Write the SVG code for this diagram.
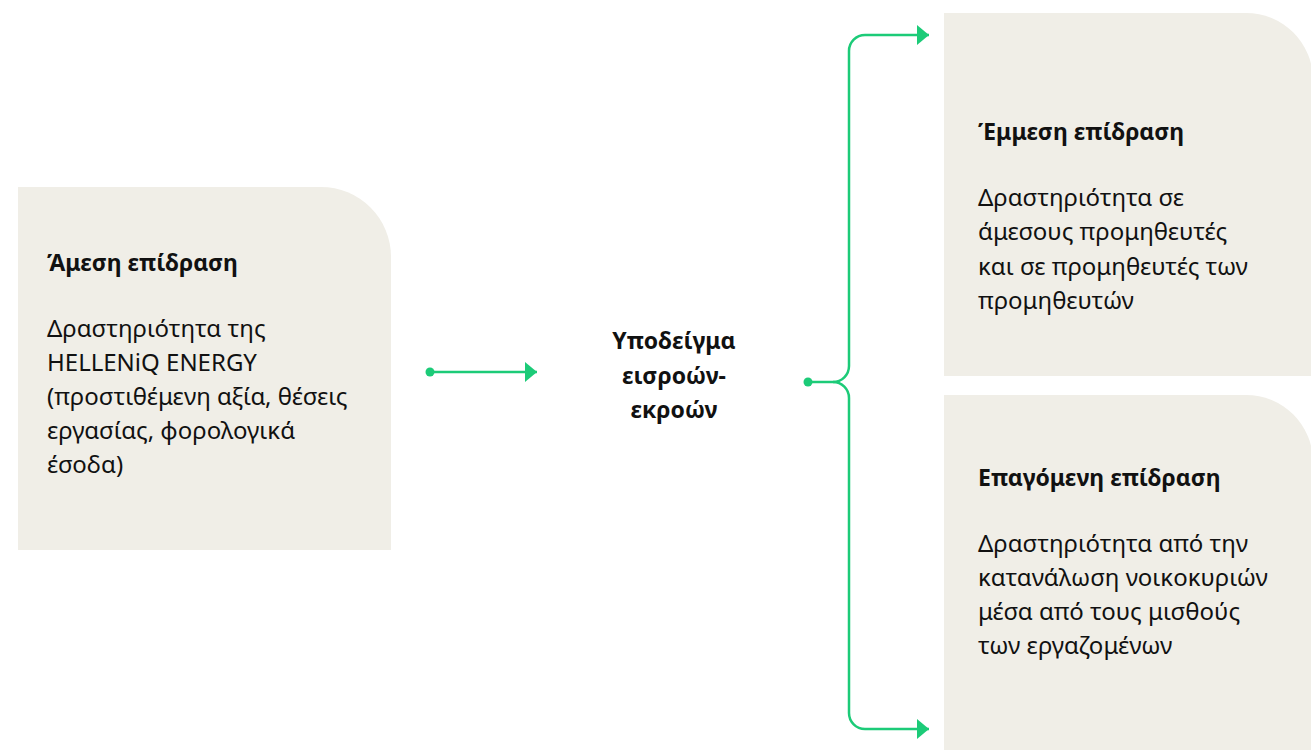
<svg xmlns="http://www.w3.org/2000/svg" width="1311" height="750" viewBox="0 0 1311 750">
<style>
.box{fill:#F0EEE7}
.t{font-family:"Noto Sans","DejaVu Sans",sans-serif;font-size:24px;fill:#111}
.b{font-weight:bold;font-size:23px}
.c{fill:none;stroke:#1CCB78;stroke-width:2.5}
.dot{fill:#1CCB78}
.ah{fill:#1CCB78}
</style>
<defs>
<marker id="arr" viewBox="0 0 12 20" refX="12" refY="10" markerWidth="12" markerHeight="20" markerUnits="userSpaceOnUse" orient="auto">
<path d="M0,0 L12,10 L0,20 Z" class="ah"/>
</marker>
</defs>
<g id="node-direct">
<path class="box" d="M18,187 H321 A70,70 0 0 1 391,257 V550 H18 Z"/>
<text class="t b" x="47" y="271">Άμεση επίδραση</text>
<text class="t" x="47" y="337">Δραστηριότητα της</text>
<text class="t" x="47" y="371">HELLENiQ ENERGY</text>
<text class="t" x="47" y="405">(προστιθέμενη αξία, θέσεις</text>
<text class="t" x="47" y="439">εργασίας, φορολογικά</text>
<text class="t" x="47" y="473">έσοδα)</text>
</g>
<g id="node-io">
<text class="t b" x="674" y="349" text-anchor="middle">Υποδείγμα</text>
<text class="t b" x="674" y="384" text-anchor="middle">εισροών-</text>
<text class="t b" x="674" y="418" text-anchor="middle">εκροών</text>
</g>
<g id="node-indirect">
<path class="box" d="M944,13 H1246 A67,67 0 0 1 1313,80 V376 H944 Z"/>
<text class="t b" x="978" y="140">Έμμεση επίδραση</text>
<text class="t" x="978" y="206">Δραστηριότητα σε</text>
<text class="t" x="978" y="240">άμεσους προμηθευτές</text>
<text class="t" x="978" y="275">και σε προμηθευτές των</text>
<text class="t" x="978" y="309">προμηθευτών</text>
</g>
<g id="node-induced">
<path class="box" d="M944,395 H1246 A67,67 0 0 1 1313,462 V750 H944 Z"/>
<text class="t b" x="978" y="486">Επαγόμενη επίδραση</text>
<text class="t" x="978" y="552">Δραστηριότητα από την</text>
<text class="t" x="978" y="586">κατανάλωση νοικοκυριών</text>
<text class="t" x="978" y="620">μέσα από τους μισθούς</text>
<text class="t" x="978" y="654">των εργαζομένων</text>
</g>
<g id="connectors">
<circle class="dot" cx="430" cy="372" r="4.5"/>
<path class="c" d="M430,372 H537" marker-end="url(#arr)"/>
<circle class="dot" cx="808" cy="382" r="4.5"/>
<path class="c" d="M808,382 H833 A16,16 0 0 0 849,366 V51 A16,16 0 0 1 865,35 H929" marker-end="url(#arr)"/>
<path class="c" d="M833,382 A16,16 0 0 1 849,398 V713 A16,16 0 0 0 865,729 H929" marker-end="url(#arr)"/>
</g>
</svg>
